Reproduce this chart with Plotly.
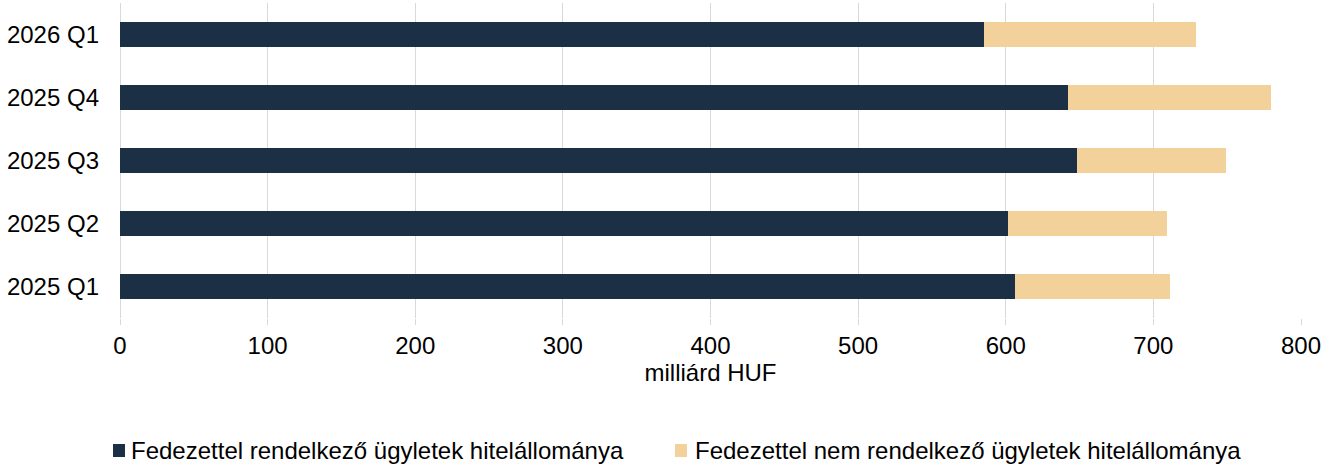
import plotly.graph_objects as go

# Quarterly loan stock, billion HUF
quarters = ["2025 Q1", "2025 Q2", "2025 Q3", "2025 Q4", "2026 Q1"]
secured = [606, 601.5, 648.5, 642, 585]
unsecured = [105, 108, 101, 138, 144]
x_ticks = [0, 100, 200, 300, 400, 500, 600, 700, 800]

series_names = [
    "Fedezettel rendelkező ügyletek hitelállománya",
    "Fedezettel nem rendelkező ügyletek hitelállománya",
]
colors = ["#1b3045", "#f2d19b"]

W, H = 1336, 468
M_L, M_R, M_T, M_B = 120, 35, 3, 150
FONT = "Liberation Sans, Arial, sans-serif"
FS = 24

fig = go.Figure()
for name, vals, col in zip(series_names, [secured, unsecured], colors):
    fig.add_trace(go.Bar(
        y=quarters, x=vals, name=name, orientation="h",
        marker=dict(color=col, line=dict(width=0)),
        width=0.4, showlegend=False,
    ))

# Custom legend row beneath the axis title
plot_w = W - M_L - M_R
plot_h = H - M_T - M_B

def px_x(p):
    return (p - M_L) / plot_w

def px_y(p):
    return (H - M_B - p) / plot_h

legend_items = [(113, 129), (675, 693)]
shapes = []
annotations = []
for (sq_x, tx), name, col in zip(legend_items, series_names, colors):
    shapes.append(dict(
        type="rect", xref="paper", yref="paper",
        x0=px_x(sq_x), x1=px_x(sq_x + 12),
        y0=px_y(457), y1=px_y(444),
        fillcolor=col, line=dict(width=0),
    ))
    annotations.append(dict(
        xref="paper", yref="paper", x=px_x(tx), y=px_y(450.5),
        xanchor="left", yanchor="middle", showarrow=False,
        text=name, font=dict(family=FONT, size=FS, color="#000000"),
    ))

fig.update_layout(
    barmode="stack",
    width=W, height=H,
    margin=dict(l=M_L, r=M_R, t=M_T, b=M_B),
    plot_bgcolor="white", paper_bgcolor="white",
    font=dict(family=FONT, size=FS, color="#000000"),
    shapes=shapes,
    annotations=annotations,
    xaxis=dict(
        range=[0, 800], tickvals=x_ticks,
        showgrid=True, gridcolor="#d9d9d9", gridwidth=1,
        zeroline=True, zerolinecolor="#d9d9d9", zerolinewidth=1,
        ticks="outside", ticklen=6, tickcolor="#d9d9d9",
        showline=False,
        title=dict(text="milliárd HUF", font=dict(size=FS), standoff=4),
        tickfont=dict(size=FS),
    ),
    yaxis=dict(
        showgrid=False, zeroline=False, showline=False,
        ticks="", ticklabelstandoff=20,
        tickfont=dict(size=FS),
    ),
)

fig.write_html("out.html")
